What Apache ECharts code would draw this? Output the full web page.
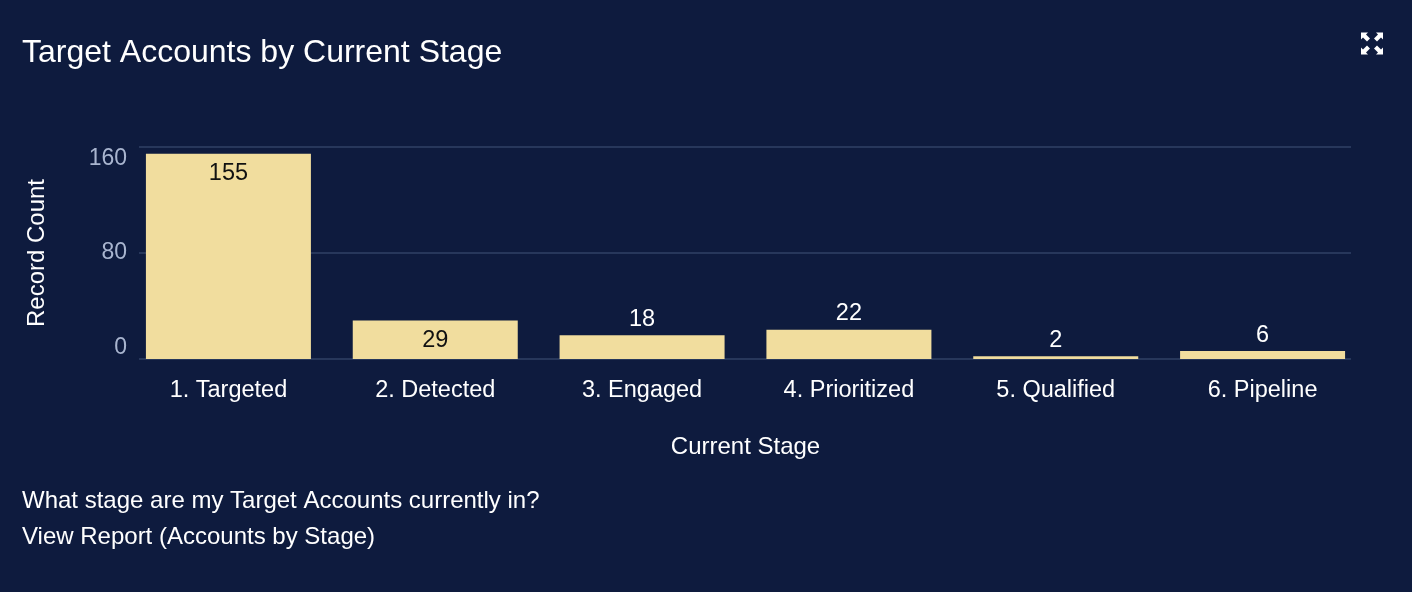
<!DOCTYPE html>
<html>
<head>
<meta charset="utf-8">
<script src="https://cdn.jsdelivr.net/npm/echarts@6/dist/echarts.min.js"></script>
<style>
html,body{margin:0;padding:0;background:#0e1b3e;}
#chart{width:1412px;height:592px;}
</style>
</head>
<body>
<div id="chart"></div>
<script>
const categories = ['1. Targeted', '2. Detected', '3. Engaged', '4. Prioritized', '5. Qualified', '6. Pipeline'];
const values = [155, 29, 18, 22, 2, 6];
const yTicks = [0, 80, 160];
const titleText = 'Target Accounts by Current Stage';
const questionText = 'What stage are my Target Accounts currently in?';
const linkText = 'View Report (Accounts by Stage)';

const FONT = 'Liberation Sans';
const chart = echarts.init(document.getElementById('chart'));

const yMin = yTicks[0], yMax = yTicks[yTicks.length - 1], yStep = yTicks[1] - yTicks[0];

const data = values.map(v => ({
  value: v,
  label: v >= 25
    ? { position: 'insideTop', distance: 8, color: '#111111' }
    : { position: 'top', distance: 4, color: '#ffffff' }
}));

const icon = (pts) => ({ type: 'polygon', shape: { points: pts }, style: { fill: '#ffffff' } });
const cx = 1372, cy = 43.5;
const tickColor = '#a9b5cf';

chart.setOption({
  backgroundColor: '#0e1b3e',
  animation: false,
  textStyle: { fontFamily: FONT },
  title: {
    text: titleText, left: 22, top: 37, padding: 0,
    textStyle: { color: '#ffffff', fontSize: 32, fontWeight: 'normal', fontFamily: FONT }
  },
  grid: [
    { left: 139, right: 61, top: 147, bottom: 233 },
    { left: 125, right: 46, top: 147, bottom: 233 }
  ],
  xAxis: [
    { type: 'value', gridIndex: 0, show: false, min: 0, max: 1 },
    {
      type: 'category', gridIndex: 1, data: categories,
      name: 'Current Stage', nameLocation: 'middle', nameGap: 76,
      nameTextStyle: { color: '#ffffff', fontSize: 24, fontFamily: FONT },
      axisLine: { show: false },
      axisTick: { show: false },
      axisLabel: { color: '#ffffff', fontSize: 23.5, margin: 20, fontFamily: FONT, interval: 0 }
    }
  ],
  yAxis: [
    {
      type: 'value', gridIndex: 0, min: yMin, max: yMax, interval: yStep,
      name: 'Record Count', nameLocation: 'middle', nameGap: 90,
      nameTextStyle: { color: '#ffffff', fontSize: 24, fontFamily: FONT },
      axisLine: { show: false }, axisTick: { show: false },
      splitLine: { lineStyle: { color: '#27375b', width: 2 } },
      axisLabel: {
        color: tickColor, fontSize: 23, margin: 12, fontFamily: FONT,
        formatter: (v) => v === yMax ? '{t|' + v + '}' : (v === yMin ? '{b|' + v + '}' : '{m|' + v + '}'),
        rich: {
          t: { color: tickColor, fontSize: 23, fontFamily: FONT, padding: [24, 0, 0, 0] },
          b: { color: tickColor, fontSize: 23, fontFamily: FONT, padding: [0, 0, 22, 0] },
          m: { color: tickColor, fontSize: 23, fontFamily: FONT }
        }
      }
    },
    { type: 'value', gridIndex: 1, min: yMin, max: yMax, interval: yStep, show: false, splitLine: { show: false } }
  ],
  series: [{
    type: 'bar', xAxisIndex: 1, yAxisIndex: 1, data: data, barWidth: 165,
    itemStyle: { color: '#f1dd9e' },
    label: { show: true, fontSize: 23.5, fontFamily: FONT }
  }],
  graphic: [
    { type: 'text', left: 22, top: 489, style: { text: questionText, fill: '#ffffff', fontSize: 24, fontFamily: FONT } },
    { type: 'text', left: 22, top: 525, style: { text: linkText, fill: '#ffffff', fontSize: 24, fontFamily: FONT } },
    icon([[cx-11,cy-11],[cx-4,cy-11],[cx-6,cy-9],[cx-2,cy-5],[cx-5,cy-2],[cx-9,cy-6],[cx-11,cy-4]]),
    icon([[cx+11,cy-11],[cx+4,cy-11],[cx+6,cy-9],[cx+2,cy-5],[cx+5,cy-2],[cx+9,cy-6],[cx+11,cy-4]]),
    icon([[cx-11,cy+11],[cx-4,cy+11],[cx-6,cy+9],[cx-2,cy+5],[cx-5,cy+2],[cx-9,cy+6],[cx-11,cy+4]]),
    icon([[cx+11,cy+11],[cx+4,cy+11],[cx+6,cy+9],[cx+2,cy+5],[cx+5,cy+2],[cx+9,cy+6],[cx+11,cy+4]])
  ]
});
</script>
</body>
</html>
